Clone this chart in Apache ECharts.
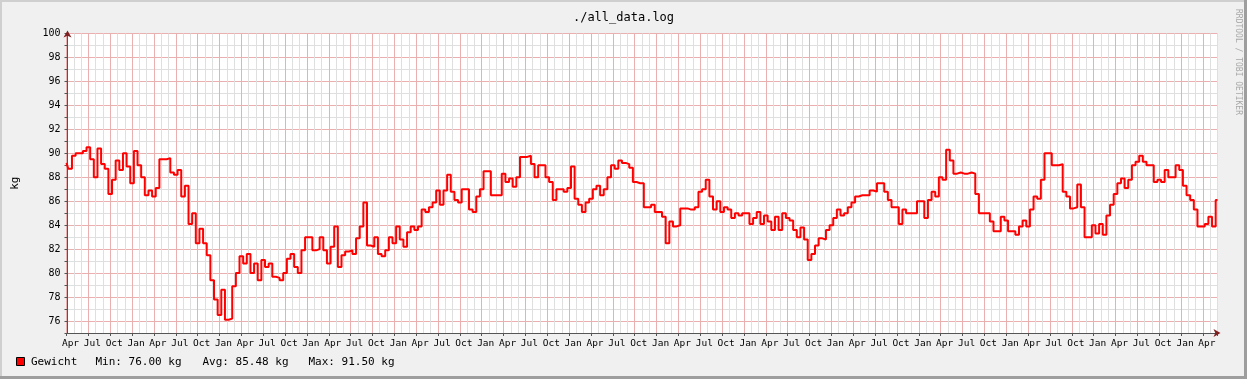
<!DOCTYPE html>
<html><head><meta charset="utf-8">
<script src="https://cdn.jsdelivr.net/npm/echarts/dist/echarts.min.js"></script>
<style>html,body{margin:0;padding:0;background:#f0f0f0}#c{width:1247px;height:379px}</style>
</head><body><div id="c"></div>
<script>
// ---- data ----
const chartTitle = './all_data.log';
const unitLabel = 'kg';
const seriesName = 'Gewicht';
const watermark = 'RRDTOOL / TOBI OETIKER';
const quarterLabels = ['Apr', 'Jul', 'Oct', 'Jan'];   // month label every 3 months, starting at Apr
const sampleStepMonths = 0.5;                          // one reading every half month
const xMaxMonths = 158;
const yMin = 75, yMax = 100;
const statMin = '76.00', statAvg = '85.48', statMax = '91.50';
const weights = [
  89.2, 88.7, 89.8, 90.0, 90.0, 90.2, 90.5, 89.5, 88.0, 90.4,
  89.1, 88.7, 86.6, 87.8, 89.4, 88.6, 90.0, 88.9, 87.5, 90.2,
  89.0, 88.0, 86.5, 86.9, 86.4, 87.1, 89.5, 89.5, 89.6, 88.4,
  88.2, 88.6, 86.4, 87.3, 84.1, 85.0, 82.5, 83.7, 82.5, 81.5,
  79.4, 77.8, 76.5, 78.6, 76.1, 76.2, 78.9, 80.0, 81.4, 80.8,
  81.6, 80.0, 80.8, 79.4, 81.1, 80.5, 80.8, 79.7, 79.6, 79.4,
  80.0, 81.2, 81.6, 80.5, 80.0, 81.9, 83.0, 83.0, 81.9, 82.0,
  83.0, 81.9, 80.8, 82.2, 83.9, 80.5, 81.5, 81.8, 81.9, 81.6,
  82.9, 83.9, 85.9, 82.3, 82.2, 83.0, 81.6, 81.4, 81.9, 83.0,
  82.5, 83.9, 82.8, 82.2, 83.4, 83.9, 83.6, 83.9, 85.3, 85.1,
  85.5, 85.9, 86.9, 85.7, 86.9, 88.2, 86.8, 86.1, 85.9, 87.0,
  87.0, 85.3, 85.1, 86.4, 87.0, 88.5, 88.5, 86.5, 86.5, 86.5,
  88.3, 87.6, 87.9, 87.2, 88.0, 89.7, 89.7, 89.8, 89.1, 88.0,
  89.0, 89.0, 88.0, 87.6, 86.1, 87.0, 87.0, 86.8, 87.1, 88.9,
  86.2, 85.7, 85.1, 85.9, 86.2, 87.0, 87.3, 86.5, 87.0, 88.0,
  89.0, 88.7, 89.4, 89.2, 89.1, 88.8, 87.6, 87.5, 87.5, 85.5,
  85.5, 85.7, 85.1, 85.1, 84.7, 82.5, 84.3, 83.9, 84.0, 85.4,
  85.4, 85.3, 85.3, 85.5, 86.8, 87.0, 87.8, 86.4, 85.3, 86.0,
  85.1, 85.5, 85.3, 84.6, 85.0, 84.8, 85.0, 85.0, 84.1, 84.6,
  85.1, 84.1, 84.8, 84.3, 83.6, 84.7, 83.6, 85.0, 84.6, 84.4,
  83.6, 83.0, 83.8, 82.8, 81.1, 81.6, 82.3, 82.9, 82.8, 83.6,
  84.0, 84.6, 85.3, 84.8, 85.0, 85.5, 85.9, 86.4, 86.5, 86.5,
  86.5, 86.9, 86.8, 87.5, 87.5, 86.8, 86.1, 85.5, 85.5, 84.1,
  85.3, 85.0, 85.0, 85.0, 86.0, 86.0, 84.6, 86.1, 86.8, 86.4,
  88.0, 87.8, 90.3, 89.4, 88.3, 88.4, 88.3, 88.3, 88.4, 88.3,
  86.6, 85.0, 85.0, 85.0, 84.3, 83.5, 83.5, 84.7, 84.4, 83.5,
  83.5, 83.2, 83.9, 84.4, 83.9, 85.3, 86.4, 86.2, 87.8, 90.0,
  90.0, 89.0, 89.0, 89.1, 86.8, 86.4, 85.4, 85.5, 87.4, 85.5,
  83.0, 83.0, 84.0, 83.3, 84.1, 83.2, 84.8, 85.7, 86.6, 87.5,
  87.9, 87.1, 87.8, 89.0, 89.3, 89.8, 89.3, 89.0, 89.0, 87.6,
  87.8, 87.6, 88.6, 88.0, 88.0, 89.0, 88.6, 87.3, 86.5, 86.1,
  85.3, 83.9, 83.9, 84.1, 84.7, 83.9, 86.1
];

// ---- chart ----
const MONO = '"DejaVu Sans Mono", monospace';
const points = weights.map((v, i) => [i * sampleStepMonths, v]);
const chart = echarts.init(document.getElementById('c'), null, {renderer: 'canvas'});

const majorGrid = '#eab0b0';
const minorGrid = '#dfdfdf';
const axisColor = '#555555';
const arrowColor = '#801f1f';

chart.setOption({
  animation: false,
  backgroundColor: '#f0f0f0',
  title: {
    text: chartTitle, left: 'center', top: 7,
    textStyle: {fontFamily: MONO, fontSize: 12, fontWeight: 'normal', color: '#000'}
  },
  grid: {left: 66.5, top: 33.5, width: 1151, height: 299.5, show: true,
         backgroundColor: '#ffffff', borderWidth: 0, containLabel: false, outerBoundsMode: 'none'},
  xAxis: [
    {
      type: 'value', min: 0, max: xMaxMonths, interval: 1,
      axisLine: {show: true, lineStyle: {color: axisColor, width: 1}},
      axisTick: {show: false},
      axisLabel: {
        show: true, margin: 6, fontFamily: MONO, fontSize: 9.5, color: '#000',
        padding: [0, 0, 0, 8], showMinLabel: true, showMaxLabel: true,
        formatter: v => (v % 3 === 0 ? quarterLabels[(v / 3) % 4] : '')
      },
      splitLine: {show: true, lineStyle: {color: [majorGrid, minorGrid, minorGrid], width: 1}}
    },
    {
      type: 'value', min: 0, max: xMaxMonths, interval: 3, position: 'bottom',
      axisLine: {show: true, symbol: ['none', 'arrow'], symbolSize: [6, 7], symbolOffset: [0, 3],
                 lineStyle: {color: arrowColor, opacity: 0}},
      axisTick: {show: true, length: 3, lineStyle: {color: axisColor}},
      axisLabel: {show: false},
      splitLine: {show: false}
    }
  ],
  yAxis: [
    {
      type: 'value', min: yMin, max: yMax, interval: 1, offset: -1,
      name: unitLabel, nameLocation: 'middle', nameRotate: 90, nameGap: 47,
      nameTextStyle: {fontFamily: MONO, fontSize: 11, color: '#000'},
      axisLine: {show: true, lineStyle: {color: axisColor, width: 1}},
      axisTick: {show: true, length: 3, lineStyle: {color: axisColor}},
      axisLabel: {
        show: true, margin: 7, fontFamily: MONO, fontSize: 10, color: '#000',
        formatter: v => (v % 2 === 0 ? String(v) : '')
      },
      splitLine: {show: true, lineStyle: {color: [minorGrid, majorGrid], width: 1}}
    },
    {
      type: 'value', min: yMin, max: yMax, interval: 1, position: 'left', offset: -1,
      axisLine: {show: true, symbol: ['none', 'arrow'], symbolSize: [6, 7], symbolOffset: [0, 3],
                 lineStyle: {color: arrowColor, opacity: 0}},
      axisTick: {show: false}, axisLabel: {show: false}, splitLine: {show: false}
    }
  ],
  series: [{
    name: seriesName, type: 'line', step: 'middle', data: points,
    xAxisIndex: 0, yAxisIndex: 0,
    showSymbol: false, symbol: 'none', clip: true, z: 5,
    lineStyle: {color: '#ff0000', width: 2},
    emphasis: {disabled: true}
  }],
  graphic: [
    {type: 'rect', silent: true, shape: {x: 0, y: 0, width: 1247, height: 2}, style: {fill: '#cfcfcf'}},
    {type: 'rect', silent: true, shape: {x: 0, y: 0, width: 2, height: 379}, style: {fill: '#cfcfcf'}},
    {type: 'rect', silent: true, shape: {x: 0, y: 376, width: 1247, height: 3}, style: {fill: '#9e9e9e'}},
    {type: 'rect', silent: true, shape: {x: 1244, y: 0, width: 3, height: 379}, style: {fill: '#9e9e9e'}},
    {type: 'text', silent: true, x: 1238, y: 62, rotation: -Math.PI / 2,
     style: {text: watermark, font: '8px ' + MONO, fill: '#a8a8a8', align: 'center', verticalAlign: 'middle'}},
    {type: 'rect', silent: true, shape: {x: 16.5, y: 357.5, width: 8, height: 8},
     style: {fill: '#ff0000', stroke: '#000', lineWidth: 1}},
    {type: 'text', silent: true, x: 31, y: 362,
     style: {text: seriesName, font: '11px ' + MONO, fill: '#000', verticalAlign: 'middle'}},
    {type: 'text', silent: true, x: 95.5, y: 362,
     style: {text: 'Min: ' + statMin + ' ' + unitLabel, font: '11px ' + MONO, fill: '#000', verticalAlign: 'middle'}},
    {type: 'text', silent: true, x: 202.5, y: 362,
     style: {text: 'Avg: ' + statAvg + ' ' + unitLabel, font: '11px ' + MONO, fill: '#000', verticalAlign: 'middle'}},
    {type: 'text', silent: true, x: 308.5, y: 362,
     style: {text: 'Max: ' + statMax + ' ' + unitLabel, font: '11px ' + MONO, fill: '#000', verticalAlign: 'middle'}}
  ]
});
</script>
</body></html>
